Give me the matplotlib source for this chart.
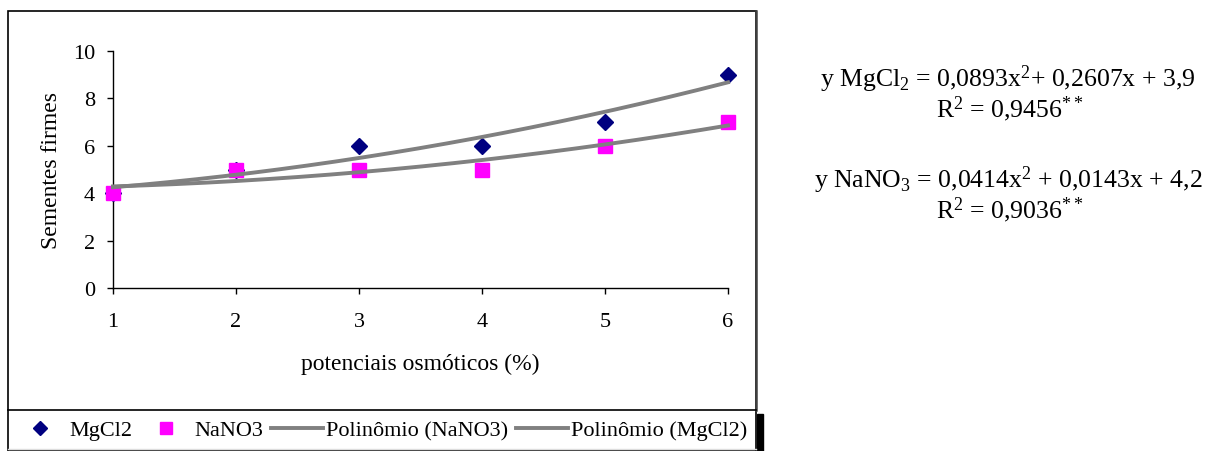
import numpy as np
import matplotlib
matplotlib.use("Agg")
import matplotlib.pyplot as plt
from matplotlib.patches import Rectangle
from matplotlib.lines import Line2D

plt.rcParams["font.family"] = ["Liberation Serif", "DejaVu Serif"]
plt.rcParams["mathtext.fontset"] = "custom"
plt.rcParams["mathtext.rm"] = "Liberation Serif"
plt.rcParams["mathtext.it"] = "Liberation Serif"

# data
potenciais = [1, 2, 3, 4, 5, 6]
mgcl2 = [4, 5, 6, 6, 7, 9]
nano3 = [4, 5, 5, 5, 6, 7]

eq_mgcl2 = r"y MgCl$_2$ = 0,0893x$^2$+ 0,2607x + 3,9"
r2_mgcl2 = r"R$^2$ = 0,9456$^{**}$"
eq_nano3 = r"y NaNO$_3$ = 0,0414x$^2$ + 0,0143x + 4,2"
r2_nano3 = r"R$^2$ = 0,9036$^{**}$"

W, H = 1210, 452
fig = plt.figure(figsize=(W / 100, H / 100), dpi=100)


def fx(px):
    return px / W


def fy(py):
    return 1 - py / H


ax = fig.add_axes([fx(113), fy(289), fx(728 - 113), (289 - 52) / H])

# polynomial trend lines (2nd order fit of each series)
xs = np.linspace(1, 6, 200)
fit_mg = np.polyfit(potenciais, mgcl2, 2)
fit_na = np.polyfit(potenciais, nano3, 2)

ax.plot(potenciais, mgcl2, linestyle="none", marker="D", markersize=8,
        color="#000080", clip_on=False, zorder=3)
ax.plot(potenciais, nano3, linestyle="none", marker="s", markersize=9.5,
        color="#FF00FF", clip_on=False, zorder=4)
ax.plot(xs, np.polyval(fit_na, xs), color="#808080", linewidth=2.8,
        clip_on=False, zorder=5)
ax.plot(xs, np.polyval(fit_mg, xs), color="#808080", linewidth=2.8,
        clip_on=False, zorder=5)

ax.set_xlim(1, 6)
ax.set_ylim(0, 10)
ax.set_xticks(potenciais)
ax.set_yticks([0, 2, 4, 6, 8, 10])
for s in ["top", "right"]:
    ax.spines[s].set_visible(False)
ax.spines["left"].set_linewidth(1.0)
ax.spines["bottom"].set_linewidth(1.0)
ax.tick_params(axis="y", direction="out", length=4, width=1, pad=9, labelsize=16)
ax.tick_params(axis="x", direction="out", length=4, width=1, pad=13, labelsize=16)
ax.set_xlabel("potenciais osmóticos (%)", fontsize=17, labelpad=16)
ax.set_ylabel("Sementes firmes", fontsize=17, labelpad=8)

# outer chart frame and legend area
fig.patches.append(Rectangle((fx(8), fy(452)), fx(756 - 8), (452 - 12) / H,
                             transform=fig.transFigure, fill=False,
                             edgecolor="black", linewidth=1.2))
fig.lines.append(Line2D([fx(756), fx(756)], [fy(12), fy(411)],
                        transform=fig.transFigure, color="#404040", linewidth=1.8))
fig.lines.append(Line2D([fx(8), fx(756)], [fy(411), fy(411)],
                        transform=fig.transFigure, color="black", linewidth=1.2))
fig.lines.append(Line2D([fx(8), fx(756)], [fy(450), fy(450)],
                        transform=fig.transFigure, color="#DDDDDD", linewidth=1.0))
fig.patches.append(Rectangle((fx(757), fy(452)), fx(6), (452 - 415) / H,
                             transform=fig.transFigure, color="black"))

handles = [
    Line2D([], [], linestyle="none", marker="D", markersize=7, color="#000080"),
    Line2D([], [], linestyle="none", marker="s", markersize=8.5, color="#FF00FF"),
    Line2D([], [], color="#808080", linewidth=2.8),
    Line2D([], [], color="#808080", linewidth=2.8),
]
labels = ["MgCl2", "NaNO3", "Polinômio (NaNO3)", "Polinômio (MgCl2)"]
fig.legend(handles, labels, loc="center left", bbox_to_anchor=(fx(14), fy(431)),
           ncol=4, frameon=False, fontsize=16, borderpad=0, borderaxespad=0,
           handlelength=2.35, handletextpad=0.12, columnspacing=0.35, numpoints=1)

# regression equations
fig.text(fx(1008), fy(87), eq_mgcl2, ha="center", va="baseline", fontsize=18.5)
fig.text(fx(1010), fy(117), r2_mgcl2, ha="center", va="baseline", fontsize=18.5)
fig.text(fx(1008), fy(188), eq_nano3, ha="center", va="baseline", fontsize=18.5)
fig.text(fx(1010), fy(218), r2_nano3, ha="center", va="baseline", fontsize=18.5)

fig.savefig("out.png", dpi=100)
